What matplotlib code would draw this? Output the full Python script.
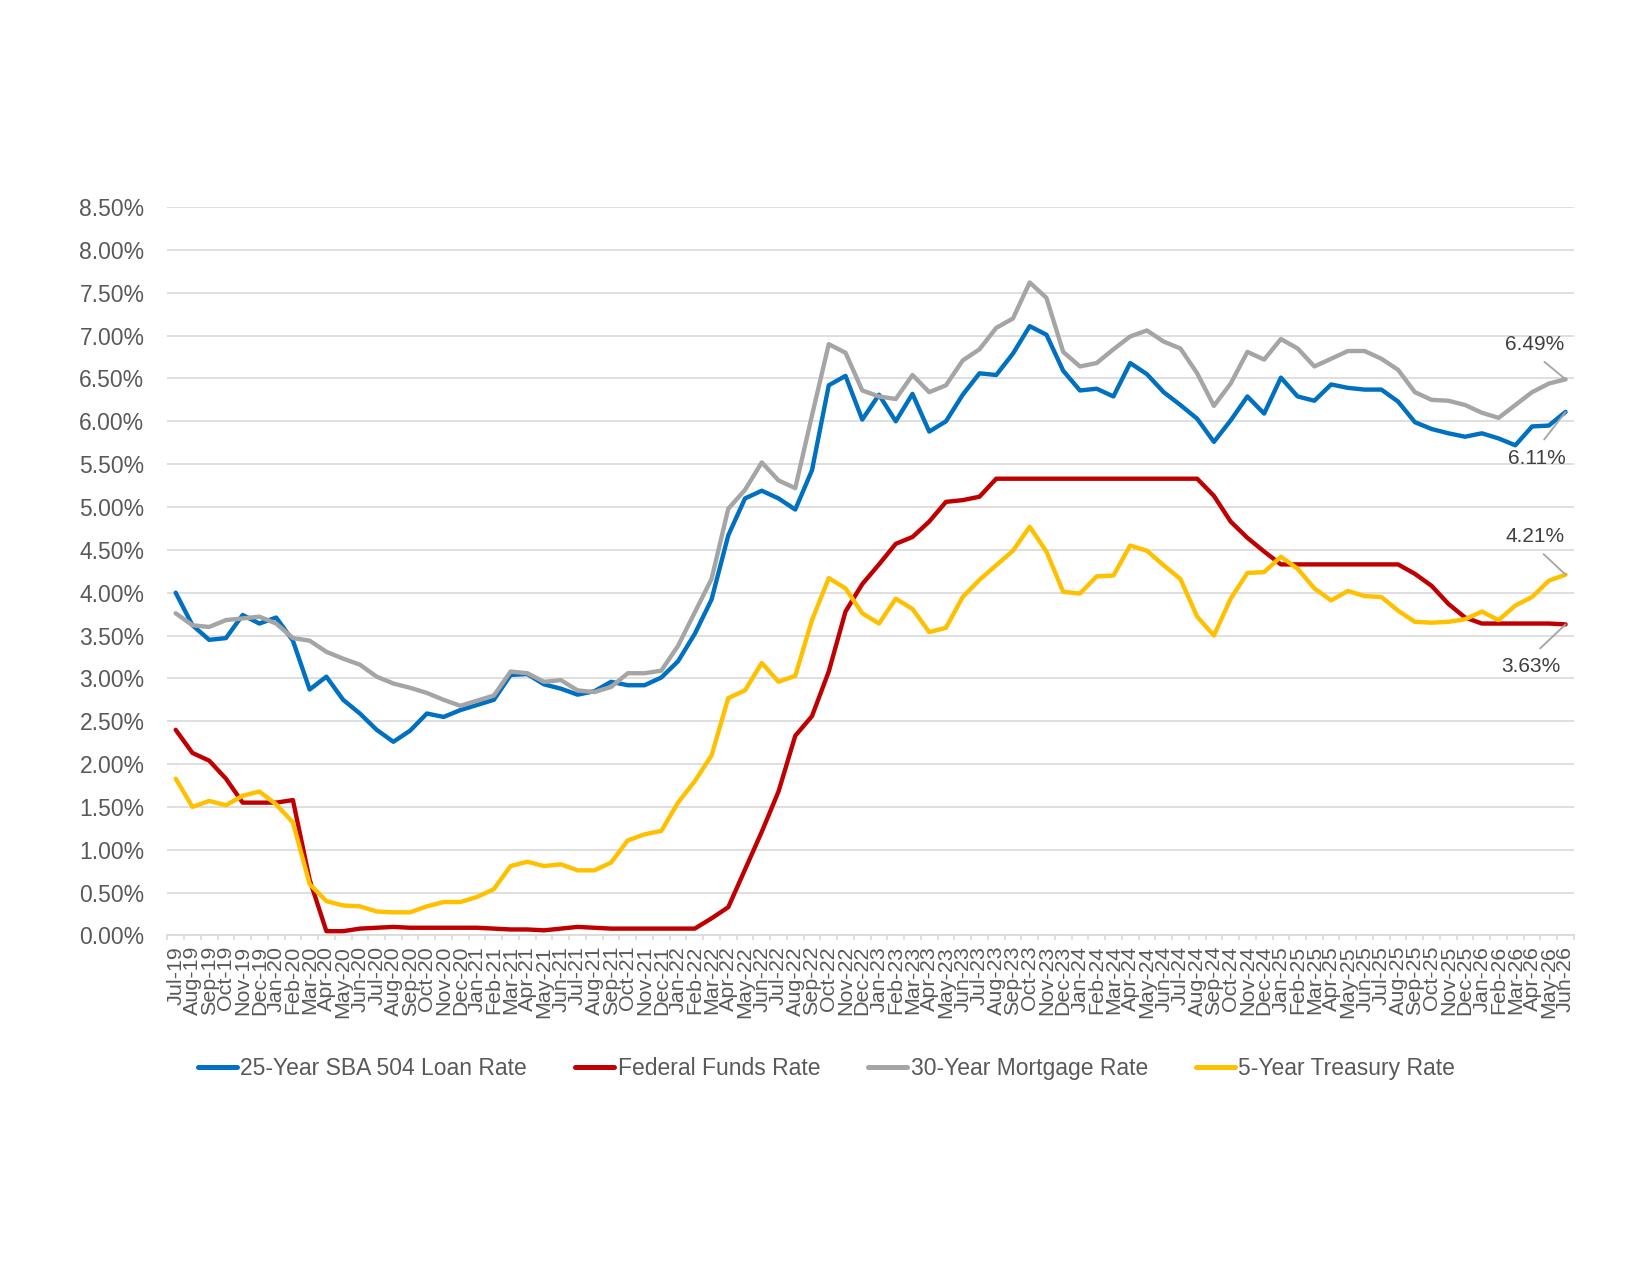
import numpy as np
import pandas as pd
import matplotlib
matplotlib.use("Agg")
import matplotlib.pyplot as plt

plt.rcParams["font.family"] = ["Liberation Sans", "DejaVu Sans"]

meses = list(pd.date_range("2019-07-01", periods=84, freq="MS").strftime("%b-%y"))

sba_504 = [4.00, 3.62, 3.45, 3.47, 3.74, 3.64, 3.71, 3.44, 2.87, 3.02, 2.75, 2.59,
           2.40, 2.26, 2.39, 2.59, 2.55, 2.63, 2.69, 2.75, 3.04, 3.05, 2.93, 2.88,
           2.81, 2.85, 2.96, 2.92, 2.92, 3.01, 3.20, 3.52, 3.92, 4.67, 5.10, 5.19,
           5.10, 4.97, 5.43, 6.42, 6.53, 6.02, 6.31, 6.00, 6.32, 5.88, 6.00, 6.31,
           6.56, 6.54, 6.79, 7.11, 7.01, 6.59, 6.36, 6.38, 6.29, 6.68, 6.55, 6.34,
           6.19, 6.03, 5.76, 6.01, 6.29, 6.09, 6.51, 6.29, 6.24, 6.43, 6.39, 6.37,
           6.37, 6.23, 5.99, 5.91, 5.86, 5.82, 5.86, 5.80, 5.72, 5.94, 5.95, 6.11]

fed_funds = [2.40, 2.13, 2.04, 1.83, 1.55, 1.55, 1.55, 1.58, 0.65, 0.05, 0.05, 0.08,
             0.09, 0.10, 0.09, 0.09, 0.09, 0.09, 0.09, 0.08, 0.07, 0.07, 0.06, 0.08,
             0.10, 0.09, 0.08, 0.08, 0.08, 0.08, 0.08, 0.08, 0.20, 0.33, 0.77, 1.21,
             1.68, 2.33, 2.56, 3.08, 3.78, 4.10, 4.33, 4.57, 4.65, 4.83, 5.06, 5.08,
             5.12, 5.33, 5.33, 5.33, 5.33, 5.33, 5.33, 5.33, 5.33, 5.33, 5.33, 5.33,
             5.33, 5.33, 5.13, 4.83, 4.64, 4.48, 4.33, 4.33, 4.33, 4.33, 4.33, 4.33,
             4.33, 4.33, 4.22, 4.08, 3.87, 3.71, 3.64, 3.64, 3.64, 3.64, 3.64, 3.63]

hipoteca_30 = [3.76, 3.62, 3.60, 3.68, 3.70, 3.72, 3.64, 3.47, 3.44, 3.31, 3.23, 3.16,
               3.02, 2.94, 2.89, 2.83, 2.75, 2.68, 2.74, 2.80, 3.08, 3.06, 2.96, 2.98,
               2.86, 2.84, 2.90, 3.06, 3.06, 3.09, 3.38, 3.77, 4.16, 4.98, 5.20, 5.52,
               5.31, 5.22, 6.07, 6.90, 6.80, 6.36, 6.29, 6.26, 6.54, 6.34, 6.42, 6.71,
               6.84, 7.09, 7.20, 7.62, 7.44, 6.81, 6.64, 6.68, 6.84, 6.99, 7.06, 6.93,
               6.85, 6.56, 6.18, 6.44, 6.81, 6.72, 6.96, 6.85, 6.64, 6.73, 6.82, 6.82,
               6.73, 6.60, 6.34, 6.25, 6.24, 6.19, 6.10, 6.04, 6.19, 6.34, 6.44, 6.49]

tesoro_5 = [1.83, 1.50, 1.57, 1.52, 1.63, 1.68, 1.53, 1.32, 0.60, 0.40, 0.35, 0.34,
            0.28, 0.27, 0.27, 0.34, 0.39, 0.39, 0.45, 0.54, 0.81, 0.86, 0.81, 0.83,
            0.76, 0.76, 0.85, 1.11, 1.18, 1.22, 1.55, 1.80, 2.10, 2.77, 2.86, 3.18,
            2.96, 3.03, 3.68, 4.17, 4.05, 3.76, 3.64, 3.93, 3.81, 3.54, 3.59, 3.95,
            4.15, 4.32, 4.49, 4.77, 4.48, 4.01, 3.99, 4.19, 4.20, 4.55, 4.49, 4.32,
            4.16, 3.72, 3.50, 3.93, 4.23, 4.24, 4.42, 4.28, 4.05, 3.91, 4.02, 3.96,
            3.95, 3.79, 3.66, 3.65, 3.66, 3.69, 3.78, 3.68, 3.85, 3.95, 4.14, 4.21]

series = [
    (sba_504, "#0070C0", "25-Year SBA 504 Loan Rate"),
    (fed_funds, "#C00000", "Federal Funds Rate"),
    (hipoteca_30, "#A5A5A5", "30-Year Mortgage Rate"),
    (tesoro_5, "#FFC000", "5-Year Treasury Rate"),
]

fig = plt.figure(figsize=(11, 8.5), dpi=150)
fig.set_facecolor("white")
ax = fig.add_axes([0.1014, 0.2663, 0.8525, 0.5713])

x = np.arange(len(meses))
for valores, color, nombre in series:
    ax.plot(x, valores, color=color, lw=2.1, label=nombre, solid_capstyle="round")

ax.set_xlim(-0.5, len(meses) - 0.5)
ax.set_ylim(0, 8.5)
yticks = np.arange(0, 8.51, 0.5)
ax.set_yticks(yticks)
ax.set_yticklabels([f"{v:.2f}%" for v in yticks])
ax.set_xticks(x)
ax.set_xticklabels(meses, rotation=90)
ax.set_xticks(np.arange(-0.5, len(meses), 1), minor=True)

ax.yaxis.grid(True, color="#D9D9D9", lw=0.8)
ax.set_axisbelow(True)
for lado in ["top", "right", "left"]:
    ax.spines[lado].set_visible(False)
ax.spines["bottom"].set_color("#D9D9D9")
ax.spines["bottom"].set_linewidth(0.8)

ax.tick_params(axis="y", length=0, pad=11, labelsize=11, labelcolor="#595959")
ax.tick_params(axis="x", which="major", length=0, pad=5, labelsize=10.3, labelcolor="#595959")
ax.tick_params(axis="x", which="minor", length=2.5, width=0.8, color="#D9D9D9")

# etiquetas del ultimo mes: (texto, valor, posicion del texto, punto de salida de la linea)
etiquetas = [
    ("6.49%", hipoteca_30[-1], (81.15, 6.90), (0.5, 0.0)),
    ("6.11%", sba_504[-1], (81.3, 5.57), (0.5, 1.0)),
    ("4.21%", tesoro_5[-1], (81.15, 4.66), (0.5, 0.0)),
    ("3.63%", fed_funds[-1], (80.95, 3.14), (0.5, 1.0)),
]
for texto, valor, pos, salida in etiquetas:
    ax.annotate(texto, xy=(x[-1], valor), xytext=pos, ha="center", va="center",
                fontsize=10, color="#404040",
                arrowprops=dict(arrowstyle="-", color="#A6A6A6", lw=0.9,
                                relpos=salida, shrinkA=3, shrinkB=0))

leg = fig.legend(loc="center", bbox_to_anchor=(0.501, 0.162), ncol=4, frameon=False,
                 fontsize=11, handlelength=1.7, handletextpad=0.15, columnspacing=2.1,
                 labelcolor="#595959")
for linea in leg.get_lines():
    linea.set_linewidth(2.4)

fig.savefig("out.png", dpi=150, facecolor="white")
